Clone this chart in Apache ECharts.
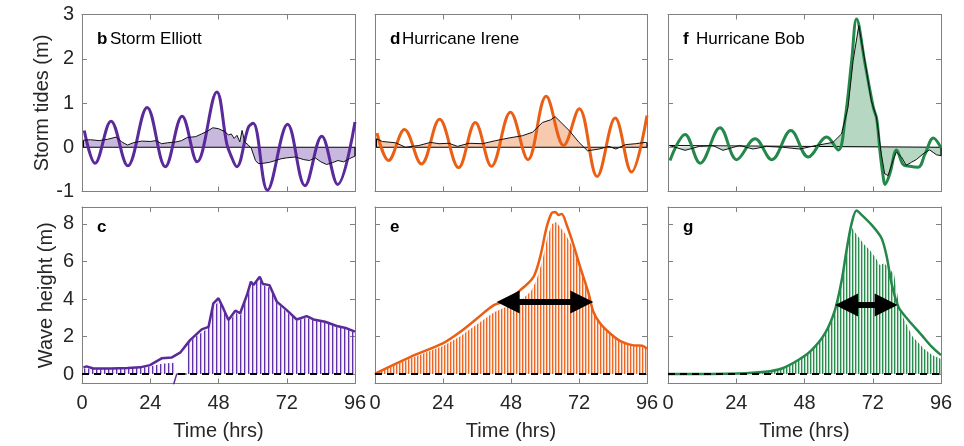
<!DOCTYPE html>
<html><head><meta charset="utf-8">
<script src="https://cdn.jsdelivr.net/npm/echarts@6/dist/echarts.min.js"></script>
<style>html,body{margin:0;padding:0;background:#fff}#c{width:964px;height:446px}</style>
</head><body><div id="c"></div>
<script>
// ---------- DATA ----------
const timeTicks = [0, 24, 48, 72, 96];
const stormTideTicks = [-1, 0, 1, 2, 3];
const waveTicks = [0, 2, 4, 6, 8];
const panelLetters = ['b', 'd', 'f', 'c', 'e', 'g'];
const stormNames = ['Storm Elliott', 'Hurricane Irene', 'Hurricane Bob'];

// Storm tides (total water level, m) [hrs, m] : turning points
const elliottTide = [[0.8,0.38],[4.6,-0.36],[10.2,0.59],[16.1,-0.42],[22.9,0.9],[29.3,-0.44],[35.2,0.7],[40.5,-0.33],[47.4,1.25],[50.9,0.08],[52.2,-0.16],[54.4,-0.44],[58.5,0.45],[60.2,0.54],[65.2,-0.97],[72.3,0.52],[78.4,-0.87],[84.3,0.25],[89.9,-0.84],[96,0.57]];
const ireneTide = [[0.7,0.32],[4.8,-0.3],[10.4,0.4],[16.4,-0.38],[22.8,0.63],[29.5,-0.46],[35.4,0.56],[41.1,-0.43],[47.8,0.79],[54,-0.28],[60.4,1.15],[66.6,0.04],[72.1,0.87],[78.4,-0.66],[84.8,0.66],[90.5,-0.56],[96,0.72]];
const bobTide = [[0.7,-0.3],[6,0.29],[11.3,-0.36],[18.3,0.44],[24.2,-0.28],[30.6,0.19],[36.5,-0.28],[43.2,0.38],[49.3,-0.22],[55.8,0.23],[59.9,-0.06],[62.2,0.6],[64.6,1.96],[66.3,2.9],[69.3,1.88],[72.2,0.9],[73.4,0.64],[74.5,-0.07],[75.7,-0.68],[76.3,-0.84],[78,-0.6],[80.4,-0.06],[82.7,-0.39],[85,-0.43],[88,-0.45],[90.4,-0.15],[93.3,0.21],[96,-0.01]];

// Non-tidal residual (surge, m)
const elliottSurge = [[0.5,0.16],[3,0.17],[6,0.15],[9,0.18],[12,0.23],[14,0.12],[16,0.05],[18,0.1],[21,0.14],[24,0.13],[26,0.15],[28,0.08],[30,0.1],[33,0.12],[35,0.15],[37,0.22],[40,0.24],[42,0.3],[44,0.36],[46,0.44],[48,0.42],[50,0.36],[51.5,0.28],[52.5,0.3],[53.5,0.2],[54.5,0.27],[55.5,0.12],[56.3,0.38],[57.2,0.12],[58.5,0.05],[59.5,-0.02],[61,-0.3],[62,-0.37],[64,-0.36],[66,-0.34],[68,-0.3],[70,-0.26],[72,-0.24],[75,-0.22],[78,-0.28],[80,-0.3],[82,-0.24],[84,-0.33],[86,-0.39],[88,-0.35],[90,-0.3],[92,-0.33],[94,-0.26],[96,-0.2]];
const ireneSurge = [[0.5,0.19],[2.6,0.13],[7.3,0.1],[10.8,0.0],[15.5,0.04],[19.6,0.11],[22.6,0.08],[26.1,0.09],[29.1,0.02],[33.2,0.09],[37.9,0.08],[42.6,0.15],[47.3,0.21],[52,0.26],[55.6,0.34],[59.1,0.56],[62,0.62],[63.6,0.69],[68.5,0.38],[72,0.11],[75,-0.08],[79.1,-0.04],[82.6,0.02],[85,-0.04],[88.5,0.06],[92,0.08],[95.3,0.11],[96,0.1]];
const bobSurge = [[0.5,0.04],[6,-0.07],[11,0.02],[15.8,0.04],[19.3,-0.07],[25.2,0.04],[29.9,-0.04],[34.6,0.02],[40.4,0.0],[46.3,-0.04],[52.1,0.04],[58,0.11],[61,0.3],[63.3,0.9],[65.1,1.96],[67.1,2.75],[69.2,1.96],[71.5,1.05],[73.3,0.68],[75,-0.15],[76.2,-0.6],[77.4,-0.64],[79.1,-0.3],[80.3,-0.11],[82.1,-0.22],[83.8,-0.41],[85.6,-0.34],[87.3,-0.28],[89.7,-0.15],[92,-0.06],[94.4,-0.17],[96,-0.19]];

// Wave height envelopes (m)
const elliottWave = [[0.5,0.36],[1.6,0.41],[4,0.3],[10,0.3],[16,0.32],[20.4,0.36],[23.9,0.48],[28,0.84],[31.6,0.89],[34.5,1.14],[38,1.81],[42.1,2.38],[44.5,2.52],[46.2,3.77],[48,4.04],[49.7,3.5],[51.5,2.88],[53.9,3.38],[55.6,3.24],[58,4.21],[59.4,4.92],[60.3,4.74],[62.5,5.19],[63.6,4.8],[65.9,4.74],[68.5,3.86],[72,3.41],[75.5,2.91],[79,3.09],[81.4,2.91],[85.5,2.79],[89.6,2.56],[93.1,2.44],[96,2.26]];
const ireneWave = [[0,0.0],[0.6,0.07],[12.4,0.91],[24.1,1.65],[30,2.24],[35.9,2.95],[41.8,3.66],[46.5,3.93],[51.2,4.46],[55.9,5.17],[58.3,6.24],[60.6,7.84],[62.4,8.59],[63.6,8.64],[64.8,8.48],[65.9,8.53],[67.7,7.93],[70.1,6.86],[72.4,5.71],[75.4,4.29],[77.1,3.31],[79.5,2.69],[83.1,2.15],[86.6,1.76],[91.3,1.53],[94.3,1.51],[96,1.35]];
const bobWave = [[0,0.0],[24.7,0.03],[34.1,0.12],[40,0.3],[45.8,0.75],[50.5,1.28],[55.2,2.17],[58.7,3.41],[61.1,5.01],[62.8,6.61],[64.6,8.04],[66.3,8.71],[68.1,8.48],[71.6,7.95],[75.1,7.24],[76.9,6.26],[78.6,4.84],[81,3.59],[84.5,2.88],[89.2,2.08],[92.7,1.46],[96,1.01]];

// Tops of the individual wave-height traces (hatching)
const elliottTraces = [[0.5,0.3],[5,0.28],[10,0.3],[15,0.3],[20,0.33],[24,0.4],[28,0.55],[32.5,0.6],[33,0],[36.8,0],[37,1.6],[40,2.0],[44,2.4],[46,3.5],[48,3.9],[50,3.4],[52,2.8],[54,3.3],[55.5,3.1],[58,4.1],[60,4.8],[62.5,5.0],[64,4.7],[66,4.6],[68.5,3.8],[72,3.3],[75.5,2.85],[79,3.0],[81.4,2.85],[85.5,2.75],[89.6,2.5],[93,2.4],[96,2.2]];
const elliottTraceDrop = [[36.8,0],[33.3,0],[32.1,-0.6]];
const ireneTraces = [[0.6,0.05],[12,0.8],[24,1.5],[30,2.0],[36,2.65],[42,3.3],[48,3.7],[52,4.0],[55,4.4],[57,5.0],[59,6.0],[61,7.4],[62.5,8.0],[64,8.1],[65.5,7.8],[67,7.5],[70,6.7],[72.4,5.6],[75.4,4.2],[77.1,3.3],[79.5,2.65],[83,2.1],[86.6,1.72],[91.3,1.5],[94.3,1.45],[96,1.3]];
const bobTraces = [[0,0],[30,0.02],[34,0.1],[40,0.25],[45.8,0.7],[50.5,1.2],[55.2,2.1],[58.7,3.4],[61.1,5.0],[62.8,6.6],[64.3,7.9],[65.5,7.6],[67,7.3],[69,6.9],[71,6.6],[73,6.2],[74.5,5.8],[76,5.9],[78,5.6],[79.5,5.3],[80.5,4.4],[81.5,3.4],[84,2.6],[86,2.0],[90,1.35],[93,1.0],[96,0.8]];

// Duration arrows [start hr, end hr, height m]
const ireneArrow = [47, 73, 3.84];
const bobArrow = [62.8, 76.7, 3.68];

// ---------- STYLE ----------
const FONT = 'Liberation Sans, Arial, sans-serif';
const AX = '#808080';
const TXT = '#262626';
const colors = ['#5a2a9a', '#ea5f14', '#23884a'];
const fills = ['#c8b8de', '#f7c9ae', '#b6d8c2'];
const hatchCol = ['rgb(96,50,165)', 'rgb(236,104,36)', 'rgb(40,140,76)'];
const hatchSoft = ['rgba(96,50,165,0.35)', 'rgba(236,104,36,0.35)', 'rgba(40,140,76,0.35)'];
const hatchTint = ['rgba(96,50,165,0.06)', 'rgba(236,104,36,0.10)', 'rgba(40,140,76,0.07)'];
const hatchGap = [4, 3, 3];

const grids = [];
const lefts = [82, 375, 668];
const widths = [273, 272, 273];
for (let r = 0; r < 2; r++) for (let c = 0; c < 3; c++) {
  grids.push({ left: lefts[c], width: widths[c], top: r === 0 ? 14.5 : 207, height: r === 0 ? 177 : 176.5 });
}

function stripes(i) {
  const gap = hatchGap[i];
  const cv = document.createElement('canvas');
  cv.width = gap; cv.height = 8;
  const ctx = cv.getContext('2d');
  ctx.fillStyle = hatchTint[i]; ctx.fillRect(0, 0, gap, 8);
  ctx.fillStyle = hatchCol[i]; ctx.fillRect(0, 0, 1, 8);
  ctx.fillStyle = hatchSoft[i]; ctx.fillRect(1, 0, 1, 8);
  return { image: cv, repeat: 'repeat' };
}

const xAxes = [], yAxes = [];
for (let g = 0; g < 6; g++) {
  const bottomRow = g >= 3;
  const left = g % 3 === 0;
  const base = {
    type: 'value', gridIndex: g, splitLine: { show: false },
    axisLine: { show: true, onZero: false, lineStyle: { color: AX, width: 1 } },
    axisTick: { show: true, inside: true, length: 5, lineStyle: { color: AX } }
  };
  xAxes.push(Object.assign({}, base, {
    position: 'bottom', min: timeTicks[0], max: timeTicks[timeTicks.length - 1], interval: timeTicks[1] - timeTicks[0],
    axisLabel: { show: bottomRow, color: TXT, fontSize: 20, fontFamily: FONT, margin: 10 },
    name: bottomRow ? 'Time (hrs)' : '', nameLocation: 'middle', nameGap: 38,
    nameTextStyle: { color: TXT, fontSize: 20, fontFamily: FONT }
  }));
  xAxes.push(Object.assign({}, base, {
    position: 'top', min: timeTicks[0], max: timeTicks[timeTicks.length - 1], interval: timeTicks[1] - timeTicks[0],
    axisLabel: { show: false }
  }));
  const yRange = bottomRow
    ? { min: -0.5, max: 8.9, splitNumber: 5 }
    : { min: stormTideTicks[0], max: stormTideTicks[stormTideTicks.length - 1], interval: 1 };
  const ticksList = bottomRow ? waveTicks : stormTideTicks;
  yAxes.push(Object.assign({}, base, yRange, {
    position: 'left',
    axisLabel: { show: left, color: TXT, fontSize: 20, fontFamily: FONT, margin: 8,
      formatter: v => (ticksList.indexOf(Math.round(v * 1000) / 1000) >= 0 ? String(v) : '') },
    name: left ? (bottomRow ? 'Wave height (m)' : 'Storm tides (m)') : '',
    nameLocation: 'middle', nameGap: bottomRow ? 26 : 30,
    nameTextStyle: { color: TXT, fontSize: 20, fontFamily: FONT }
  }));
  yAxes.push(Object.assign({}, base, yRange, { position: 'right', axisLabel: { show: false } }));
}

const tides = [elliottTide, ireneTide, bobTide];
const surges = [elliottSurge, ireneSurge, bobSurge];
const waves = [elliottWave, ireneWave, bobWave];
const traces = [elliottTraces, ireneTraces, bobTraces];
const series = [];
for (let i = 0; i < 3; i++) {
  const ax = { xAxisIndex: 2 * i, yAxisIndex: 2 * i };
  const s = surges[i];
  series.push(Object.assign({ type: 'line', data: s, showSymbol: false, silent: true,
    lineStyle: { width: 0 }, areaStyle: { color: fills[i], opacity: 1, origin: 0 } }, ax));
  series.push(Object.assign({ type: 'line', showSymbol: false, silent: true,
    data: [s[0], [s[0][0], 0], [s[s.length - 1][0], 0], s[s.length - 1]],
    lineStyle: { color: '#000', width: 1.2 } }, ax));
  series.push(Object.assign({ type: 'line', data: tides[i], showSymbol: false, silent: true,
    smooth: 0.37, lineStyle: { color: colors[i], width: 3 } }, ax));
  series.push(Object.assign({ type: 'line', data: s, showSymbol: false, silent: true,
    lineStyle: { color: '#111', width: 1 } }, ax));

  const bx = { xAxisIndex: 2 * (i + 3), yAxisIndex: 2 * (i + 3) };
  series.push(Object.assign({ type: 'line', data: traces[i], showSymbol: false, silent: true,
    lineStyle: { width: 0 }, areaStyle: { color: stripes(i), opacity: 1, origin: 0 } }, bx));
  if (i === 0) {
    series.push(Object.assign({ type: 'line', data: elliottTraceDrop, showSymbol: false, silent: true,
      lineStyle: { color: colors[0], width: 1.5 } }, bx));
  }
  series.push(Object.assign({ type: 'line', data: waves[i], showSymbol: false, silent: true,
    smooth: i === 0 ? 0 : 0.3, lineStyle: { color: colors[i], width: 2.5 } }, bx));
  const dz = { type: 'line', showSymbol: false, silent: true,
    data: [[timeTicks[0], 0], [timeTicks[timeTicks.length - 1], 0]],
    lineStyle: { color: '#000', width: 2, type: [7, 5] } };
  if (i > 0) {
    const a = i === 1 ? ireneArrow : bobArrow;
    dz.markLine = { silent: true, symbol: ['triangle', 'triangle'], symbolSize: [23, 23],
      label: { show: false }, lineStyle: { color: '#000', width: 6, type: 'solid' },
      emphasis: { disabled: true },
      data: [[{ coord: [a[0], a[2]] }, { coord: [a[1], a[2]] }]] };
  }
  series.push(Object.assign(dz, bx));
}

const graphic = [];
const letterX = [97, 390, 683];
for (let g = 0; g < 6; g++) {
  const c = g % 3, y = g < 3 ? 39 : 227;
  graphic.push({ type: 'text', x: letterX[c], y: y, silent: true,
    style: { text: panelLetters[g], font: 'bold 17px ' + FONT, fill: '#000', verticalAlign: 'middle' } });
  if (g < 3) {
    graphic.push({ type: 'text', x: [110, 402, 696][c], y: y, silent: true,
      style: { text: stormNames[c], font: '17px ' + FONT, fill: '#000', verticalAlign: 'middle' } });
  }
}

const chart = echarts.init(document.getElementById('c'), null, { renderer: 'canvas' });
chart.setOption({
  animation: false, backgroundColor: '#fff',
  grid: grids, xAxis: xAxes, yAxis: yAxes, series: series, graphic: graphic
});
</script></body></html>
